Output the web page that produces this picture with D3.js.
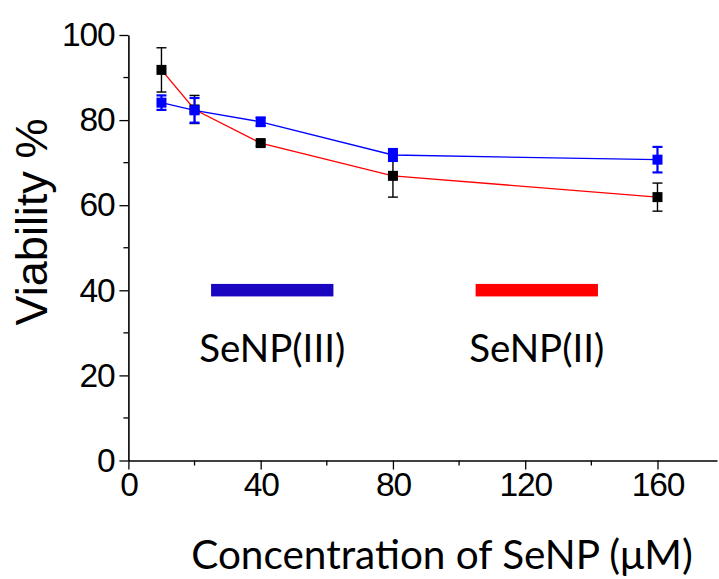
<!DOCTYPE html>
<html>
<head>
<meta charset="utf-8">
<script src="https://cdn.jsdelivr.net/npm/d3@7"></script>
<style>
  body { margin: 0; background: #fff; }
  svg { display: block; }
</style>
</head>
<body>
<svg id="chart" width="719" height="579"></svg>
<script>
// concentrations (uM)
const concentrations = [10, 20, 40, 80, 160];
// SeNP(II) - black markers, red line
const senp2Values = [91.8, 82.5, 74.6, 66.9, 61.9];
const senp2Errors = [5.2, 3.3, 0.6, 5.0, 3.3];
// SeNP(III) - blue markers, blue line
const senp3Values = [84.1, 82.3, 79.6, 71.8, 70.7];
const senp3Errors = [1.7, 2.9, 1.0, 1.4, 3.0];

const xTicks = [0, 40, 80, 120, 160];
const yTicks = [0, 20, 40, 60, 80, 100];

const legendItems = [
    { name: "SeNP(III)", color: "#1a06c0", from: 25, to: 62 },
    { name: "SeNP(II)", color: "#ff0000", from: 105, to: 142 },
];

const svg = d3.select("#chart");

const x = d3.scaleLinear().domain([0, 178]).range([128.4, 717]);
const y = d3.scaleLinear().domain([0, 100]).range([460.5, 35]);

const tickFont = "'Liberation Sans', Arial, sans-serif";
const labelFont = "Lato, 'Open Sans', sans-serif";

// axes
const xAxis = svg.append("g")
    .attr("transform", `translate(0,${y(0)})`)
    .call(d3.axisBottom(x).tickValues(xTicks).tickSize(9).tickPadding(3).tickSizeOuter(0));
xAxis.append("g").selectAll("line")
    .data([20, 60, 100, 140])
    .join("line")
    .attr("x1", d => x(d)).attr("x2", d => x(d))
    .attr("y1", 0).attr("y2", 5)
    .attr("stroke", "#000").attr("stroke-width", 1.3);

const yAxis = svg.append("g")
    .attr("transform", `translate(${x(0)},0)`)
    .call(d3.axisLeft(y).tickValues(yTicks).tickSize(9).tickPadding(5).tickSizeOuter(0));
yAxis.append("g").selectAll("line")
    .data([10, 30, 50, 70, 90])
    .join("line")
    .attr("x1", 0).attr("x2", -5)
    .attr("y1", d => y(d)).attr("y2", d => y(d))
    .attr("stroke", "#000").attr("stroke-width", 1.3);

[xAxis, yAxis].forEach(a => {
    a.select(".domain").attr("stroke-width", 1.6);
    a.selectAll(".tick line").attr("stroke-width", 1.3);
    a.selectAll(".tick text")
        .style("font-family", tickFont)
        .style("font-size", "33.5px")
        .style("letter-spacing", "-1.2px")
        .attr("fill", "#000");
});

// axis titles
svg.append("text")
    .attr("x", 442)
    .attr("y", 569)
    .attr("text-anchor", "middle")
    .style("font-family", labelFont)
    .style("font-size", "40.5px")
    .text("Concentration of SeNP (μM)");

svg.append("text")
    .attr("transform", "translate(47,222) rotate(-90)")
    .attr("text-anchor", "middle")
    .style("font-family", tickFont)
    .style("font-size", "45px")
    .text("Viability %");

// lines
const series = [
    { values: senp2Values, errors: senp2Errors, line: "#ff0000", marker: "#000000", errWidth: 1.4 },
    { values: senp3Values, errors: senp3Errors, line: "#0000ff", marker: "#0000ff", errWidth: 2.2 },
];

const line = d3.line()
    .x((d, i) => x(concentrations[i]))
    .y(d => y(d));

series.forEach(s => {
    svg.append("path")
        .datum(s.values)
        .attr("fill", "none")
        .attr("stroke", s.line)
        .attr("stroke-width", 1.3)
        .attr("d", line);
});

// error bars and markers
series.forEach(s => {
    const g = svg.append("g");
    const pts = s.values.map((v, i) => ({ x: concentrations[i], v: v, e: s.errors[i] }));
    g.selectAll("line.err")
        .data(pts)
        .join("line")
        .attr("x1", d => x(d.x)).attr("x2", d => x(d.x))
        .attr("y1", d => y(d.v + d.e)).attr("y2", d => y(d.v - d.e))
        .attr("stroke", s.marker).attr("stroke-width", s.errWidth);
    [1, -1].forEach(sign => {
        g.selectAll(null)
            .data(pts)
            .join("line")
            .attr("x1", d => x(d.x) - 5).attr("x2", d => x(d.x) + 5)
            .attr("y1", d => y(d.v + sign * d.e)).attr("y2", d => y(d.v + sign * d.e))
            .attr("stroke", s.marker).attr("stroke-width", s.errWidth);
    });
    g.selectAll("rect")
        .data(pts)
        .join("rect")
        .attr("x", d => x(d.x) - 5)
        .attr("y", d => y(d.v) - 5)
        .attr("width", 10)
        .attr("height", 10)
        .attr("fill", s.marker);
});

// legend bars with labels
const legend = svg.append("g");
legend.selectAll("rect")
    .data(legendItems)
    .join("rect")
    .attr("x", d => x(d.from))
    .attr("y", y(41.5))
    .attr("width", d => x(d.to) - x(d.from))
    .attr("height", 12.5)
    .attr("fill", d => d.color);
legend.selectAll("text")
    .data(legendItems)
    .join("text")
    .attr("x", d => (x(d.from) + x(d.to)) / 2)
    .attr("y", 362)
    .attr("text-anchor", "middle")
    .style("font-family", labelFont)
    .style("font-size", "38.5px")
    .text(d => d.name);
</script>
</body>
</html>
